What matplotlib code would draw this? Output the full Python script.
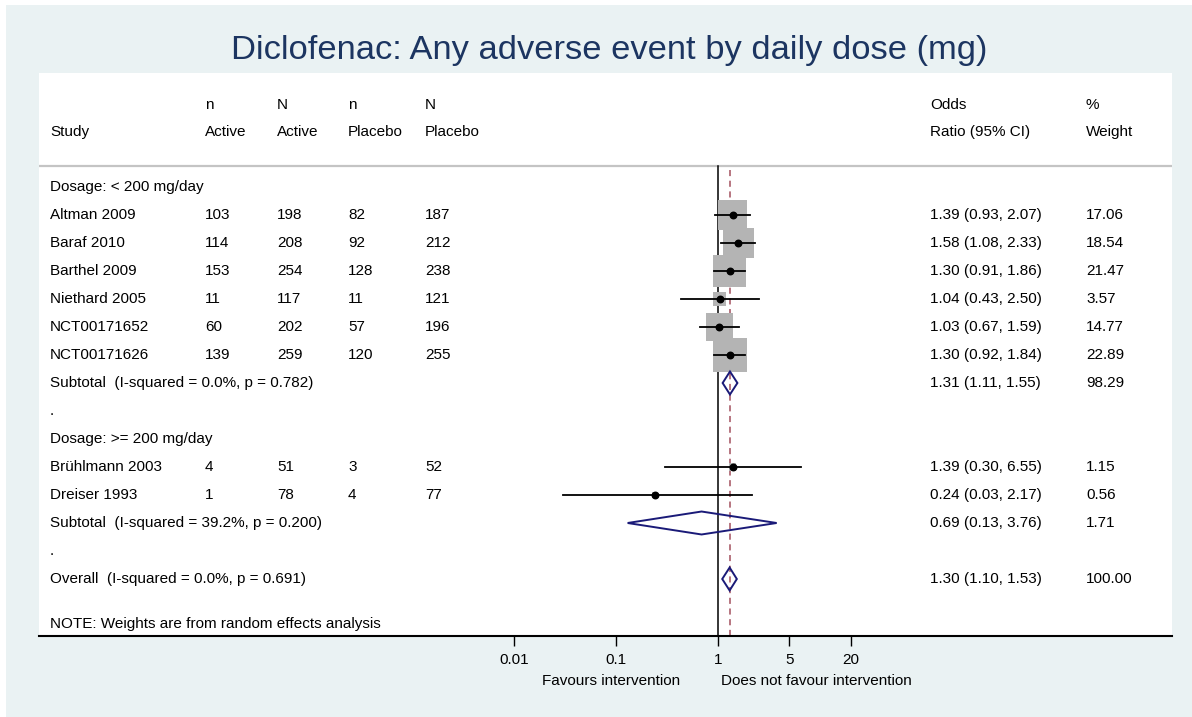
import numpy as np
import matplotlib.pyplot as plt
from matplotlib.patches import Rectangle, Polygon
from matplotlib.transforms import blended_transform_factory

plt.rcParams['font.family'] = ['Liberation Sans', 'DejaVu Sans']

# Datos de los estudios
estudios = ['Altman 2009', 'Baraf 2010', 'Barthel 2009', 'Niethard 2005',
            'NCT00171652', 'NCT00171626', 'Brühlmann 2003', 'Dreiser 1993']
filas_estudios = [1, 2, 3, 4, 5, 6, 10, 11]
n_activo = [103, 114, 153, 11, 60, 139, 4, 1]
N_activo = [198, 208, 254, 117, 202, 259, 51, 78]
n_placebo = [82, 92, 128, 11, 57, 120, 3, 4]
N_placebo = [187, 212, 238, 121, 196, 255, 52, 77]
odds = [1.39, 1.58, 1.30, 1.04, 1.03, 1.30, 1.39, 0.24]
ic_inf = [0.93, 1.08, 0.91, 0.43, 0.67, 0.92, 0.30, 0.03]
ic_sup = [2.07, 2.33, 1.86, 2.50, 1.59, 1.84, 6.55, 2.17]
pesos = [17.06, 18.54, 21.47, 3.57, 14.77, 22.89, 1.15, 0.56]

# Subtotales y total
resumen_etiquetas = ['Subtotal  (I-squared = 0.0%, p = 0.782)',
                     'Subtotal  (I-squared = 39.2%, p = 0.200)',
                     'Overall  (I-squared = 0.0%, p = 0.691)']
filas_resumen = [7, 12, 14]
resumen_or = [1.31, 0.69, 1.30]
resumen_inf = [1.11, 0.13, 1.10]
resumen_sup = [1.55, 3.76, 1.53]
resumen_pesos = [98.29, 1.71, 100.00]

otras_etiquetas = ['Dosage: < 200 mg/day', '.', 'Dosage: >= 200 mg/day', '.']
filas_otras = [0, 8, 9, 13]

ticks_x = [0.01, 0.1, 1, 5, 20]
ticks_etiquetas = ['0.01', '0.1', '1', '5', '20']

W, H = 1192, 717
fig = plt.figure(figsize=(W / 100, H / 100), dpi=100, facecolor='white')
fig.patches.append(Rectangle((6 / W, 0), 1 - 6 / W, 1 - 5 / H, transform=fig.transFigure,
                             facecolor='#EAF2F3', edgecolor='none', zorder=-10))

izq, der, arriba, abajo = 39, 1172, 73, 636
ax = fig.add_axes([izq / W, 1 - abajo / H, (der - izq) / W, (abajo - arriba) / H])
ax.set_facecolor('white')

# Escala: x=1 en 718 px, 102 px por decada; filas cada 28 px desde 187
px_dec = 102.0
ax.set_xscale('log')
ax.set_xlim(10 ** ((izq - 718) / px_dec), 10 ** ((der - 718) / px_dec))
fila = lambda py: (py - 187) / 28.0
ax.set_ylim(fila(abajo), fila(arriba))

for lado in ['top', 'left', 'right']:
    ax.spines[lado].set_visible(False)
ax.spines['bottom'].set_linewidth(1.5)
ax.set_yticks([])
ax.set_xticks(ticks_x)
ax.set_xticklabels(ticks_etiquetas)
ax.minorticks_off()
fs = 11
ax.tick_params(axis='x', direction='out', length=7, width=1.0, pad=5, labelsize=fs)

# Linea de cabecera
ax.axhline(fila(166), color='#C4C4C4', lw=1.6)

# Lineas verticales
ax.plot([1, 1], [fila(166), fila(abajo)], color='black', lw=1.1, zorder=2)
ax.plot([resumen_or[2]] * 2, [fila(170), fila(abajo)], color='#A3505E', lw=1.1,
        ls=(0, (4, 3)), zorder=2)

# Cajas, intervalos y puntos
lados_px = 7.1 * np.sqrt(np.array(pesos))
ax.scatter(odds, filas_estudios, marker='s', s=(lados_px * 0.72) ** 2,
           color='#B4B4B4', edgecolors='none', zorder=3)
for o, lo, hi, f in zip(odds, ic_inf, ic_sup, filas_estudios):
    ax.plot([lo, hi], [f, f], color='black', lw=1.3, zorder=4)
ax.scatter(odds, filas_estudios, marker='o', s=22, color='black', zorder=5)

# Diamantes
for o, lo, hi, f in zip(resumen_or, resumen_inf, resumen_sup, filas_resumen):
    d = Polygon([[lo, f], [o, f - 0.41], [hi, f], [o, f + 0.41]], closed=True,
                facecolor='none', edgecolor='#1A1A78', lw=1.4, zorder=4)
    ax.add_patch(d)

# Textos
tr = blended_transform_factory(ax.transAxes, ax.transData)
cx = lambda px: (px - izq) / (der - izq)

ax.text(cx(50), fila(132), 'Study', transform=tr, fontsize=fs, va='center')
cabeceras = [(205, 'n', 'Active'), (277, 'N', 'Active'), (348, 'n', 'Placebo'),
             (425, 'N', 'Placebo'), (930, 'Odds', 'Ratio (95% CI)'), (1086, '%', 'Weight')]
for px, a, b in cabeceras:
    ax.text(cx(px), fila(105), a, transform=tr, fontsize=fs, va='center')
    ax.text(cx(px), fila(132), b, transform=tr, fontsize=fs, va='center')

for et, f in zip(otras_etiquetas, filas_otras):
    ax.text(cx(50), f, et, transform=tr, fontsize=fs, va='center')

for i, f in enumerate(filas_estudios):
    ax.text(cx(50), f, estudios[i], transform=tr, fontsize=fs, va='center')
    ax.text(cx(205), f, str(n_activo[i]), transform=tr, fontsize=fs, va='center')
    ax.text(cx(277), f, str(N_activo[i]), transform=tr, fontsize=fs, va='center')
    ax.text(cx(348), f, str(n_placebo[i]), transform=tr, fontsize=fs, va='center')
    ax.text(cx(425), f, str(N_placebo[i]), transform=tr, fontsize=fs, va='center')
    ax.text(cx(930), f, f'{odds[i]:.2f} ({ic_inf[i]:.2f}, {ic_sup[i]:.2f})',
            transform=tr, fontsize=fs, va='center')
    ax.text(cx(1086), f, f'{pesos[i]:.2f}', transform=tr, fontsize=fs, va='center')

for i, f in enumerate(filas_resumen):
    ax.text(cx(50), f, resumen_etiquetas[i], transform=tr, fontsize=fs, va='center')
    ax.text(cx(930), f, f'{resumen_or[i]:.2f} ({resumen_inf[i]:.2f}, {resumen_sup[i]:.2f})',
            transform=tr, fontsize=fs, va='center')
    ax.text(cx(1086), f, f'{resumen_pesos[i]:.2f}', transform=tr, fontsize=fs, va='center')

ax.text(cx(50), fila(624), 'NOTE: Weights are from random effects analysis',
        transform=tr, fontsize=fs, va='center')

# Etiquetas de favorece
fig.text(680 / W, 1 - 681 / H, 'Favours intervention', ha='right', va='center', fontsize=fs)
fig.text(721 / W, 1 - 681 / H, 'Does not favour intervention', ha='left', va='center', fontsize=fs)

# Titulo
fig.text(609 / W, 1 - 50 / H, 'Diclofenac: Any adverse event by daily dose (mg)',
         ha='center', va='center', fontsize=24.8, color='#1C3561')

fig.savefig('out.png', dpi=100, facecolor=fig.get_facecolor())
